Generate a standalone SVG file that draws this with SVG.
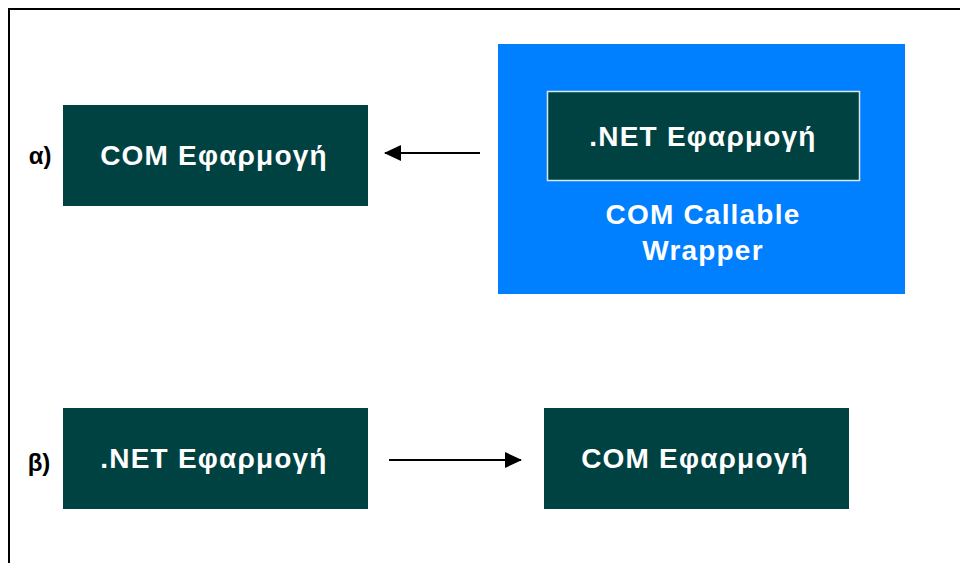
<svg xmlns="http://www.w3.org/2000/svg" width="960" height="563" viewBox="0 0 960 563">
<style>
.box{fill:#004242}
.t{font-family:"Liberation Sans",Arial,sans-serif;font-weight:bold;font-size:28px;fill:#ffffff;text-anchor:middle;letter-spacing:1.2px}
.lbl{font-family:"Liberation Sans",Arial,sans-serif;font-weight:bold;font-size:24px;fill:#000000;text-anchor:middle}
.conn{stroke:#000000;stroke-width:2;fill:none}
</style>
<defs>
<marker id="ah" markerWidth="17" markerHeight="16" refX="16" refY="8" orient="auto" markerUnits="userSpaceOnUse">
<path d="M0,0 L17,8 L0,16 Z" fill="#000000"/>
</marker>
</defs>
<rect x="0" y="0" width="960" height="563" fill="#ffffff"/>
<path d="M9,563 V9 H960" fill="none" stroke="#000000" stroke-width="2"/>
<g id="label-a"><text class="lbl" x="40" y="164">α)</text></g>
<g id="label-b"><text class="lbl" x="39" y="471">β)</text></g>
<g id="com-a"><rect class="box" x="63" y="105" width="305" height="101"/><text class="t" x="214" y="165">COM Εφαρμογή</text></g>
<g id="ccw"><rect x="498" y="44" width="407" height="250" fill="#0080ff"/>
<text class="t" x="703" y="224">COM Callable</text>
<text class="t" x="703" y="260">Wrapper</text></g>
<g id="net-a"><rect class="box" x="547.5" y="91.5" width="312" height="89" stroke="#d8e8ee" stroke-width="1.5"/><text class="t" x="703" y="146">.NET Εφαρμογή</text></g>
<g id="net-b"><rect class="box" x="63" y="408" width="305" height="101"/><text class="t" x="214" y="468">.NET Εφαρμογή</text></g>
<g id="com-b"><rect class="box" x="544" y="408" width="305" height="101"/><text class="t" x="695" y="468">COM Εφαρμογή</text></g>
<g id="connectors">
<line class="conn" x1="480" y1="153" x2="385" y2="153" marker-end="url(#ah)"/>
<line class="conn" x1="389" y1="460" x2="521" y2="460" marker-end="url(#ah)"/>
</g>
</svg>
